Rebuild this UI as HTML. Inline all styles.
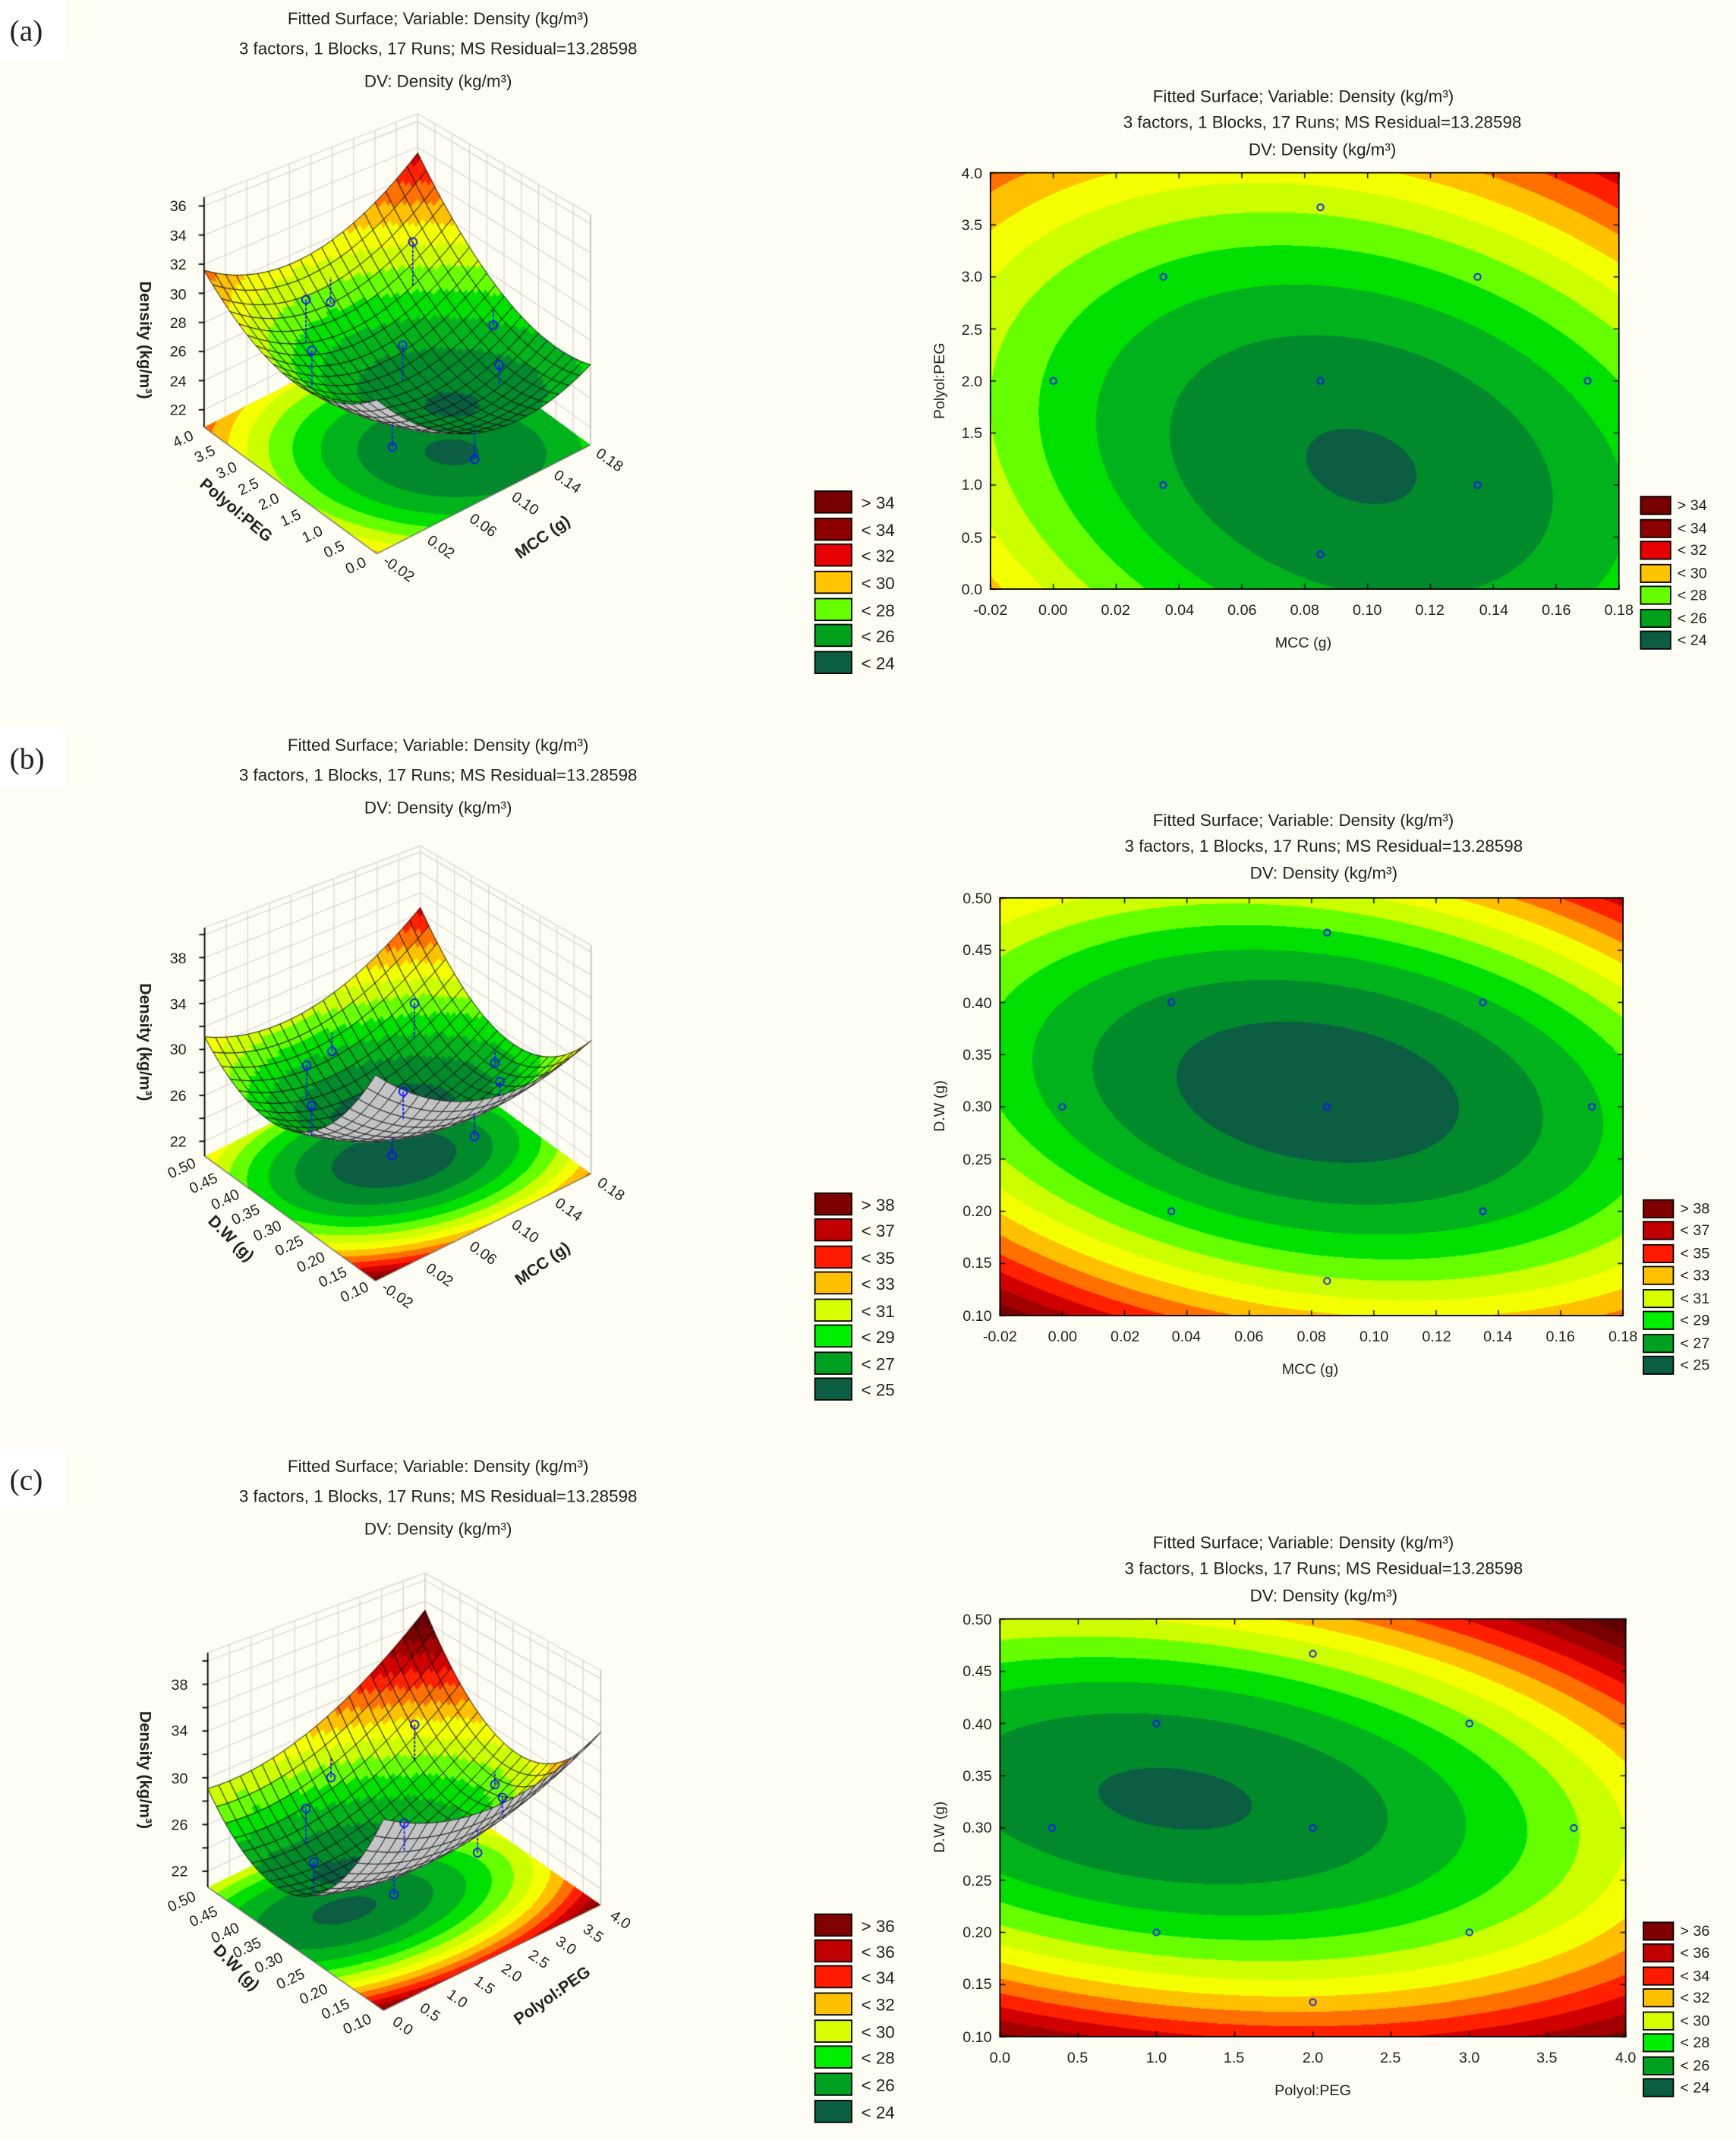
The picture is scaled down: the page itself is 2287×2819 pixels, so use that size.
<!DOCTYPE html>
<html><head><meta charset="utf-8">
<style>
html,body{margin:0;padding:0;background:#fdfdf4;}
#wrap{position:relative;width:2287px;height:2819px;overflow:hidden;}
canvas,svg{position:absolute;left:0;top:0;width:2287px;height:2819px;}
svg text{font-family:"Liberation Sans",sans-serif;fill:#222;}
.t{font-size:12.5px;text-anchor:middle;}
.k{font-size:11px;}
.km{font-size:11px;text-anchor:middle;}
.ke{font-size:11px;text-anchor:end;}
.b{font-size:12px;font-weight:bold;text-anchor:middle;}
.lg{font-size:12.5px;}
.lr{font-size:11px;}
.p{font-family:"Liberation Serif",serif;font-size:22px;}
</style></head><body><div id="wrap">
<canvas id="c" width="2287" height="2819"></canvas>
<svg viewBox="0 0 1276 1573" xmlns="http://www.w3.org/2000/svg">
<rect x="0" y="0" width="48" height="44" fill="#fff"/>
<rect x="0" y="535" width="48" height="44" fill="#fff"/>
<rect x="0" y="1065" width="48" height="44" fill="#fff"/>
<text class="p" x="7" y="30">(a)</text>
<text class="p" x="7" y="565">(b)</text>
<text class="p" x="7" y="1095">(c)</text>

<!-- ===== (a) left titles ===== -->
<text class="t" x="322" y="18">Fitted Surface; Variable: Density (kg/m³)</text>
<text class="t" x="322" y="40">3 factors, 1 Blocks, 17 Runs; MS Residual=13.28598</text>
<text class="t" x="322" y="64">DV: Density (kg/m³)</text>
<text class="ke" x="137" y="305">22</text><text class="ke" x="137" y="284">24</text><text class="ke" x="137" y="262">26</text><text class="ke" x="137" y="241">28</text><text class="ke" x="137" y="220">30</text><text class="ke" x="137" y="198">32</text><text class="ke" x="137" y="177">34</text><text class="ke" x="137" y="155">36</text>
<text class="b" transform="translate(103,250) rotate(90)">Density (kg/m³)</text>
<text class="km" transform="translate(263,419) rotate(-25)">0.0</text><text class="km" transform="translate(247,407) rotate(-25)">0.5</text><text class="km" transform="translate(231,396) rotate(-25)">1.0</text><text class="km" transform="translate(215,384) rotate(-25)">1.5</text><text class="km" transform="translate(199,372) rotate(-25)">2.0</text><text class="km" transform="translate(184,361) rotate(-25)">2.5</text><text class="km" transform="translate(168,349) rotate(-25)">3.0</text><text class="km" transform="translate(152,337) rotate(-25)">3.5</text><text class="km" transform="translate(136,326) rotate(-25)">4.0</text>
<text class="km" transform="translate(291,421) rotate(35)">-0.02</text><text class="km" transform="translate(322,405) rotate(35)">0.02</text><text class="km" transform="translate(353,389) rotate(35)">0.06</text><text class="km" transform="translate(384,373) rotate(35)">0.10</text><text class="km" transform="translate(415,357) rotate(35)">0.14</text><text class="km" transform="translate(446,341) rotate(35)">0.18</text>
<text class="b" transform="translate(171,378) rotate(40)">Polyol:PEG</text>
<text class="b" transform="translate(401,398) rotate(-35)">MCC (g)</text>
<g>
<rect x="599" y="361" width="27" height="16" fill="#780000" stroke="#000"/><text class="lg" x="633" y="374">&gt; 34</text>
<rect x="599" y="381" width="27" height="16" fill="#8c0000" stroke="#000"/><text class="lg" x="633" y="394">&lt; 34</text>
<rect x="599" y="400" width="27" height="16" fill="#e60000" stroke="#000"/><text class="lg" x="633" y="413">&lt; 32</text>
<rect x="599" y="420" width="27" height="16" fill="#ffc400" stroke="#000"/><text class="lg" x="633" y="433">&lt; 30</text>
<rect x="599" y="440" width="27" height="16" fill="#66ff00" stroke="#000"/><text class="lg" x="633" y="453">&lt; 28</text>
<rect x="599" y="459" width="27" height="16" fill="#00a01c" stroke="#000"/><text class="lg" x="633" y="472">&lt; 26</text>
<rect x="599" y="479" width="27" height="16" fill="#0b5e42" stroke="#000"/><text class="lg" x="633" y="492">&lt; 24</text>
</g>

<!-- ===== (a) right ===== -->
<text class="t" x="958" y="75">Fitted Surface; Variable: Density (kg/m³)</text>
<text class="t" x="972" y="94">3 factors, 1 Blocks, 17 Runs; MS Residual=13.28598</text>
<text class="t" x="972" y="114">DV: Density (kg/m³)</text>
<rect x="728" y="127" width="462" height="306" fill="none" stroke="#000"/>
<text class="ke" x="722" y="131">4.0</text><text class="ke" x="722" y="169">3.5</text><text class="ke" x="722" y="207">3.0</text><text class="ke" x="722" y="246">2.5</text><text class="ke" x="722" y="284">2.0</text><text class="ke" x="722" y="322">1.5</text><text class="ke" x="722" y="360">1.0</text><text class="ke" x="722" y="399">0.5</text><text class="ke" x="722" y="437">0.0</text>
<text class="km" x="728" y="452">-0.02</text><text class="km" x="774" y="452">0.00</text><text class="km" x="820" y="452">0.02</text><text class="km" x="867" y="452">0.04</text><text class="km" x="913" y="452">0.06</text><text class="km" x="959" y="452">0.08</text><text class="km" x="1005" y="452">0.10</text><text class="km" x="1051" y="452">0.12</text><text class="km" x="1098" y="452">0.14</text><text class="km" x="1144" y="452">0.16</text><text class="km" x="1190" y="452">0.18</text>
<text class="km" x="958" y="476">MCC (g)</text>
<text class="km" transform="translate(694,280) rotate(-90)">Polyol:PEG</text>
<g>
<rect x="1206" y="365" width="22" height="13" fill="#780000" stroke="#000"/><text class="lr" x="1233" y="375">&gt; 34</text>
<rect x="1206" y="382" width="22" height="13" fill="#8c0000" stroke="#000"/><text class="lr" x="1233" y="392">&lt; 34</text>
<rect x="1206" y="398" width="22" height="13" fill="#e60000" stroke="#000"/><text class="lr" x="1233" y="408">&lt; 32</text>
<rect x="1206" y="415" width="22" height="13" fill="#ffc400" stroke="#000"/><text class="lr" x="1233" y="425">&lt; 30</text>
<rect x="1206" y="431" width="22" height="13" fill="#66ff00" stroke="#000"/><text class="lr" x="1233" y="441">&lt; 28</text>
<rect x="1206" y="448" width="22" height="13" fill="#00a01c" stroke="#000"/><text class="lr" x="1233" y="458">&lt; 26</text>
<rect x="1206" y="464" width="22" height="13" fill="#0b5e42" stroke="#000"/><text class="lr" x="1233" y="474">&lt; 24</text>
</g>

<!-- ===== (b) left ===== -->
<text class="t" x="322" y="552">Fitted Surface; Variable: Density (kg/m³)</text>
<text class="t" x="322" y="574">3 factors, 1 Blocks, 17 Runs; MS Residual=13.28598</text>
<text class="t" x="322" y="598">DV: Density (kg/m³)</text>
<text class="ke" x="137" y="843">22</text><text class="ke" x="137" y="809">26</text><text class="ke" x="137" y="775">30</text><text class="ke" x="137" y="742">34</text><text class="ke" x="137" y="708">38</text>
<text class="b" transform="translate(103,766) rotate(90)">Density (kg/m³)</text>
<text class="km" transform="translate(262,953) rotate(-25)">0.10</text><text class="km" transform="translate(246,942) rotate(-25)">0.15</text><text class="km" transform="translate(230,931) rotate(-25)">0.20</text><text class="km" transform="translate(214,919) rotate(-25)">0.25</text><text class="km" transform="translate(198,908) rotate(-25)">0.30</text><text class="km" transform="translate(182,896) rotate(-25)">0.35</text><text class="km" transform="translate(167,885) rotate(-25)">0.40</text><text class="km" transform="translate(151,873) rotate(-25)">0.45</text><text class="km" transform="translate(135,862) rotate(-25)">0.50</text>
<text class="km" transform="translate(290,955) rotate(35)">-0.02</text><text class="km" transform="translate(321,940) rotate(35)">0.02</text><text class="km" transform="translate(353,924) rotate(35)">0.06</text><text class="km" transform="translate(384,908) rotate(35)">0.10</text><text class="km" transform="translate(416,892) rotate(35)">0.14</text><text class="km" transform="translate(447,877) rotate(35)">0.18</text>
<text class="b" transform="translate(167,913) rotate(45)">D.W (g)</text>
<text class="b" transform="translate(401,932) rotate(-35)">MCC (g)</text>
<g>
<rect x="599" y="877" width="27" height="16" fill="#800000" stroke="#000"/><text class="lg" x="633" y="890">&gt; 38</text>
<rect x="599" y="896" width="27" height="16" fill="#c00000" stroke="#000"/><text class="lg" x="633" y="909">&lt; 37</text>
<rect x="599" y="916" width="27" height="16" fill="#ff1a00" stroke="#000"/><text class="lg" x="633" y="929">&lt; 35</text>
<rect x="599" y="935" width="27" height="16" fill="#ffc000" stroke="#000"/><text class="lg" x="633" y="948">&lt; 33</text>
<rect x="599" y="955" width="27" height="16" fill="#d8ff00" stroke="#000"/><text class="lg" x="633" y="968">&lt; 31</text>
<rect x="599" y="974" width="27" height="16" fill="#00ee00" stroke="#000"/><text class="lg" x="633" y="987">&lt; 29</text>
<rect x="599" y="994" width="27" height="16" fill="#00a020" stroke="#000"/><text class="lg" x="633" y="1007">&lt; 27</text>
<rect x="599" y="1013" width="27" height="16" fill="#0b5e42" stroke="#000"/><text class="lg" x="633" y="1026">&lt; 25</text>
</g>

<!-- ===== (b) right ===== -->
<text class="t" x="958" y="607">Fitted Surface; Variable: Density (kg/m³)</text>
<text class="t" x="973" y="626">3 factors, 1 Blocks, 17 Runs; MS Residual=13.28598</text>
<text class="t" x="973" y="646">DV: Density (kg/m³)</text>
<rect x="735" y="660" width="458" height="307" fill="none" stroke="#000"/>
<text class="ke" x="729" y="664">0.50</text><text class="ke" x="729" y="702">0.45</text><text class="ke" x="729" y="741">0.40</text><text class="ke" x="729" y="779">0.35</text><text class="ke" x="729" y="817">0.30</text><text class="ke" x="729" y="856">0.25</text><text class="ke" x="729" y="894">0.20</text><text class="ke" x="729" y="932">0.15</text><text class="ke" x="729" y="971">0.10</text>
<text class="km" x="735" y="986">-0.02</text><text class="km" x="781" y="986">0.00</text><text class="km" x="827" y="986">0.02</text><text class="km" x="872" y="986">0.04</text><text class="km" x="918" y="986">0.06</text><text class="km" x="964" y="986">0.08</text><text class="km" x="1010" y="986">0.10</text><text class="km" x="1056" y="986">0.12</text><text class="km" x="1101" y="986">0.14</text><text class="km" x="1147" y="986">0.16</text><text class="km" x="1193" y="986">0.18</text>
<text class="km" x="963" y="1010">MCC (g)</text>
<text class="km" transform="translate(694,813) rotate(-90)">D.W (g)</text>
<g>
<rect x="1208" y="882" width="22" height="13" fill="#800000" stroke="#000"/><text class="lr" x="1235" y="892">&gt; 38</text>
<rect x="1208" y="898" width="22" height="13" fill="#c00000" stroke="#000"/><text class="lr" x="1235" y="908">&lt; 37</text>
<rect x="1208" y="915" width="22" height="13" fill="#ff1a00" stroke="#000"/><text class="lr" x="1235" y="925">&lt; 35</text>
<rect x="1208" y="931" width="22" height="13" fill="#ffc000" stroke="#000"/><text class="lr" x="1235" y="941">&lt; 33</text>
<rect x="1208" y="948" width="22" height="13" fill="#d8ff00" stroke="#000"/><text class="lr" x="1235" y="958">&lt; 31</text>
<rect x="1208" y="964" width="22" height="13" fill="#00ee00" stroke="#000"/><text class="lr" x="1235" y="974">&lt; 29</text>
<rect x="1208" y="981" width="22" height="13" fill="#00a020" stroke="#000"/><text class="lr" x="1235" y="991">&lt; 27</text>
<rect x="1208" y="997" width="22" height="13" fill="#0b5e42" stroke="#000"/><text class="lr" x="1235" y="1007">&lt; 25</text>
</g>

<!-- ===== (c) left ===== -->
<text class="t" x="322" y="1082">Fitted Surface; Variable: Density (kg/m³)</text>
<text class="t" x="322" y="1104">3 factors, 1 Blocks, 17 Runs; MS Residual=13.28598</text>
<text class="t" x="322" y="1128">DV: Density (kg/m³)</text>
<text class="ke" x="138" y="1379">22</text><text class="ke" x="138" y="1345">26</text><text class="ke" x="138" y="1311">30</text><text class="ke" x="138" y="1276">34</text><text class="ke" x="138" y="1242">38</text>
<text class="b" transform="translate(103,1301) rotate(90)">Density (kg/m³)</text>
<text class="km" transform="translate(264,1491) rotate(-25)">0.10</text><text class="km" transform="translate(248,1480) rotate(-25)">0.15</text><text class="km" transform="translate(232,1469) rotate(-25)">0.20</text><text class="km" transform="translate(215,1458) rotate(-25)">0.25</text><text class="km" transform="translate(199,1446) rotate(-25)">0.30</text><text class="km" transform="translate(183,1435) rotate(-25)">0.35</text><text class="km" transform="translate(167,1424) rotate(-25)">0.40</text><text class="km" transform="translate(151,1412) rotate(-25)">0.45</text><text class="km" transform="translate(135,1401) rotate(-25)">0.50</text>
<text class="km" transform="translate(294,1492) rotate(35)">0.0</text><text class="km" transform="translate(314,1482) rotate(35)">0.5</text><text class="km" transform="translate(334,1472) rotate(35)">1.0</text><text class="km" transform="translate(354,1462) rotate(35)">1.5</text><text class="km" transform="translate(374,1453) rotate(35)">2.0</text><text class="km" transform="translate(394,1443) rotate(35)">2.5</text><text class="km" transform="translate(414,1433) rotate(35)">3.0</text><text class="km" transform="translate(434,1424) rotate(35)">3.5</text><text class="km" transform="translate(454,1414) rotate(35)">4.0</text>
<text class="b" transform="translate(171,1449) rotate(45)">D.W (g)</text>
<text class="b" transform="translate(408,1470) rotate(-35)">Polyol:PEG</text>
<g>
<rect x="599" y="1407" width="27" height="16" fill="#800000" stroke="#000"/><text class="lg" x="633" y="1420">&gt; 36</text>
<rect x="599" y="1426" width="27" height="16" fill="#c00000" stroke="#000"/><text class="lg" x="633" y="1439">&lt; 36</text>
<rect x="599" y="1445" width="27" height="16" fill="#ff1a00" stroke="#000"/><text class="lg" x="633" y="1458">&lt; 34</text>
<rect x="599" y="1465" width="27" height="16" fill="#ffc000" stroke="#000"/><text class="lg" x="633" y="1478">&lt; 32</text>
<rect x="599" y="1485" width="27" height="16" fill="#d8ff00" stroke="#000"/><text class="lg" x="633" y="1498">&lt; 30</text>
<rect x="599" y="1504" width="27" height="16" fill="#00ee00" stroke="#000"/><text class="lg" x="633" y="1517">&lt; 28</text>
<rect x="599" y="1524" width="27" height="16" fill="#00a020" stroke="#000"/><text class="lg" x="633" y="1537">&lt; 26</text>
<rect x="599" y="1544" width="27" height="16" fill="#0b5e42" stroke="#000"/><text class="lg" x="633" y="1557">&lt; 24</text>
</g>

<!-- ===== (c) right ===== -->
<text class="t" x="958" y="1138">Fitted Surface; Variable: Density (kg/m³)</text>
<text class="t" x="973" y="1157">3 factors, 1 Blocks, 17 Runs; MS Residual=13.28598</text>
<text class="t" x="973" y="1177">DV: Density (kg/m³)</text>
<rect x="735" y="1190" width="460" height="307" fill="none" stroke="#000"/>
<text class="ke" x="729" y="1194">0.50</text><text class="ke" x="729" y="1232">0.45</text><text class="ke" x="729" y="1271">0.40</text><text class="ke" x="729" y="1309">0.35</text><text class="ke" x="729" y="1347">0.30</text><text class="ke" x="729" y="1386">0.25</text><text class="ke" x="729" y="1424">0.20</text><text class="ke" x="729" y="1462">0.15</text><text class="ke" x="729" y="1501">0.10</text>
<text class="km" x="735" y="1516">0.0</text><text class="km" x="792" y="1516">0.5</text><text class="km" x="850" y="1516">1.0</text><text class="km" x="907" y="1516">1.5</text><text class="km" x="965" y="1516">2.0</text><text class="km" x="1022" y="1516">2.5</text><text class="km" x="1080" y="1516">3.0</text><text class="km" x="1137" y="1516">3.5</text><text class="km" x="1195" y="1516">4.0</text>
<text class="km" x="965" y="1540">Polyol:PEG</text>
<text class="km" transform="translate(694,1343) rotate(-90)">D.W (g)</text>
<g>
<rect x="1208" y="1413" width="22" height="13" fill="#800000" stroke="#000"/><text class="lr" x="1235" y="1423">&gt; 36</text>
<rect x="1208" y="1429" width="22" height="13" fill="#c00000" stroke="#000"/><text class="lr" x="1235" y="1439">&lt; 36</text>
<rect x="1208" y="1446" width="22" height="13" fill="#ff1a00" stroke="#000"/><text class="lr" x="1235" y="1456">&lt; 34</text>
<rect x="1208" y="1462" width="22" height="13" fill="#ffc000" stroke="#000"/><text class="lr" x="1235" y="1472">&lt; 32</text>
<rect x="1208" y="1479" width="22" height="13" fill="#d8ff00" stroke="#000"/><text class="lr" x="1235" y="1489">&lt; 30</text>
<rect x="1208" y="1495" width="22" height="13" fill="#00ee00" stroke="#000"/><text class="lr" x="1235" y="1505">&lt; 28</text>
<rect x="1208" y="1512" width="22" height="13" fill="#00a020" stroke="#000"/><text class="lr" x="1235" y="1522">&lt; 26</text>
<rect x="1208" y="1528" width="22" height="13" fill="#0b5e42" stroke="#000"/><text class="lr" x="1235" y="1538">&lt; 24</text>
</g>
</svg>
</div>
<script>
(function(){
var S=2287/1276;
var cv=document.getElementById('c'),ctx=cv.getContext('2d');
ctx.fillStyle='#fdfdf4';ctx.fillRect(0,0,2287,2819);
var pal=['#0b5e42','#008a2c','#00b21c','#00e000','#66ff00','#ccff00','#f4ff00','#ffc000','#ff7000','#ff2000','#d00000','#a00000','#780000','#600000'];
var rgb=pal.map(function(h){return [parseInt(h.substr(1,2),16),parseInt(h.substr(3,2),16),parseInt(h.substr(5,2),16)];});
function band(g){if(g<0)return 0;return Math.min(pal.length-1,Math.floor(g)+1);}
function gA(u,v){var a=u-.59,b=v-.295;return 12.5*a*a+11.7*b*b+6*a*b-.09;}
function gB(u,v){var a=u-.51,b=v-.535;return 13.3*a*a+24*b*b+8*a*b-.65;}
function gC(u,v){var a=u-.28,b=v-.57;return 10.5*a*a+29*b*b+8*a*b-.15;}
function field(x0,y0,x1,y1,fn){
 var X0=Math.floor(x0*S),Y0=Math.floor(y0*S),W=Math.ceil(x1*S)-X0,H=Math.ceil(y1*S)-Y0;
 var img=ctx.getImageData(X0,Y0,W,H),d=img.data;
 for(var j=0;j<H;j++)for(var i=0;i<W;i++){
  var k=fn((X0+i+.5)/S,(Y0+j+.5)/S);if(k<0)continue;
  var c=rgb[k],p=(j*W+i)*4;d[p]=c[0];d[p+1]=c[1];d[p+2]=c[2];d[p+3]=255;}
 ctx.putImageData(img,X0,Y0);}
var pts=[[.1,.5],[.275,.25],[.275,.75],[.525,.083],[.525,.5],[.525,.917],[.775,.25],[.775,.75],[.95,.5]];
var ptsC=[[.083,.5],[.25,.25],[.25,.75],[.5,.083],[.5,.5],[.5,.917],[.75,.25],[.75,.75],[.917,.5]];
var cons=[[728,127,1190,433,gA,pts],[735,660,1193,967,gB,pts],[735,1190,1195,1497,gC,ptsC]];
cons.forEach(function(c){field(c[0],c[1],c[2],c[3],function(x,y){var u=(x-c[0])/(c[2]-c[0]),v=(c[3]-y)/(c[3]-c[1]);if(u<0||u>1||v<0||v>1)return -1;return band(c[4](u,v));});});
var cfgs=[
 {F:[277,407],R:[434,327],L:[150,314],z0:20.8,k:10.7,zt:36.6,zs:22,g:gA,base:24,pts:pts},
 {F:[276,941.4],R:[434.5,862.7],L:[150.4,849.8],z0:20.7,k:8.44,zt:40.6,zs:22,g:gB,base:25,pts:pts},
 {F:[281.9,1477.5],R:[441.6,1400],L:[152.7,1387],z0:20.64,k:8.59,zt:40.7,zs:22,g:gC,base:24,pts:ptsC}];
cfgs.forEach(function(c){
 var F=c.F,R=c.R,L=c.L,a=[R[0]-F[0],R[1]-F[1]],b=[L[0]-F[0],L[1]-F[1]],det=a[0]*b[1]-a[1]*b[0];
 c.P=function(u,v,f){var s=1-0.11*(u+v-1);return [F[0]+u*a[0]+v*b[0],F[1]+u*a[1]+v*b[1]-(f-c.z0)*c.k*s];};
 var minx=Math.min(F[0],R[0],L[0]),maxx=Math.max(F[0],R[0],L[0],R[0]+L[0]-F[0]),miny=Math.min(R[1],L[1],R[1]+L[1]-F[1]),maxy=F[1];
 field(minx,miny,maxx,maxy,function(x,y){var dx=x-F[0],dy=y-F[1];var u=(dx*b[1]-dy*b[0])/det,v=(a[0]*dy-a[1]*dx)/det;if(u<0||u>1||v<0||v>1)return -1;return band(c.g(u,v));});
});
ctx.setTransform(S,0,0,S,0,0);
function line(p,q){ctx.beginPath();ctx.moveTo(p[0],p[1]);ctx.lineTo(q[0],q[1]);ctx.stroke();}
cons.forEach(function(c,ci){
 ctx.strokeStyle='#000';ctx.lineWidth=.8;
 var nx=ci==2?8:10;
 for(var i=0;i<=nx;i++){var x=c[0]+(c[2]-c[0])*i/nx;line([x,c[3]],[x,c[3]-4]);line([x,c[1]],[x,c[1]+4]);}
 for(var j=0;j<=8;j++){var y=c[1]+(c[3]-c[1])*j/8;line([c[0],y],[c[0]+4,y]);line([c[2],y],[c[2]-4,y]);}
 ctx.strokeStyle='#1010ff';ctx.lineWidth=1;
 c[5].forEach(function(p){var x=c[0]+p[0]*(c[2]-c[0]),y=c[3]-p[1]*(c[3]-c[1]);ctx.beginPath();ctx.arc(x,y,2.3,0,7);ctx.stroke();});
});
cfgs.forEach(function(c){
 var P=c.P;
 ctx.strokeStyle='#d2d2d2';ctx.lineWidth=.6;
 for(var i=0;i<=10;i++){var t=i/10;line(P(t,1,c.z0),P(t,1,c.zt));line(P(1,t,c.z0),P(1,t,c.zt));}
 for(var z=c.zs;z<=c.zt;z+=2){ctx.beginPath();var p=P(0,1,z);ctx.moveTo(p[0],p[1]);p=P(1,1,z);ctx.lineTo(p[0],p[1]);p=P(1,0,z);ctx.lineTo(p[0],p[1]);ctx.stroke();}
 ctx.beginPath();var p=P(0,1,c.zt);ctx.moveTo(p[0],p[1]);p=P(1,1,c.zt);ctx.lineTo(p[0],p[1]);p=P(1,0,c.zt);ctx.lineTo(p[0],p[1]);ctx.stroke();
 ctx.strokeStyle='#b0b0b0';line(P(1,0,c.z0),P(1,0,c.zt));
 ctx.strokeStyle='#000';ctx.lineWidth=1;line(P(0,1,c.z0),P(0,1,c.zt));
 for(var z=c.zs;z<=c.zt;z+=2){var q=P(0,1,z);line(q,[q[0]-4,q[1]]);}
 ctx.strokeStyle='#666';ctx.lineWidth=.7;line(P(0,1,c.z0),P(0,0,c.z0));line(P(0,0,c.z0),P(1,0,c.z0));
 var N=20,M=3,T=N*M;
 function f(u,v){return c.base+c.g(u,v);}
 var G=[];for(var i=0;i<=T;i++){G[i]=[];for(var j=0;j<=T;j++)G[i][j]=P(i/T,j/T,f(i/T,j/T));}
 var cells=[];for(var i=0;i<N;i++)for(var j=0;j<N;j++)cells.push([i,j]);
 cells.sort(function(A,B){return (B[0]+B[1])-(A[0]+A[1]);});
 cells.forEach(function(cl){
  var sub=[];for(var a=0;a<M;a++)for(var b=0;b<M;b++)sub.push([cl[0]*M+a,cl[1]*M+b]);
  sub.sort(function(A,B){return (B[0]+B[1])-(A[0]+A[1]);});
  sub.forEach(function(s){var i=s[0],j=s[1],p00=G[i][j],p10=G[i+1][j],p11=G[i+1][j+1],p01=G[i][j+1];
   var cr=(p10[0]-p00[0])*(p01[1]-p00[1])-(p10[1]-p00[1])*(p01[0]-p00[0]);
   var col=cr>0?'#c6c6c6':pal[band(c.g((i+.5)/T,(j+.5)/T))];
   ctx.fillStyle=col;ctx.strokeStyle=col;ctx.lineWidth=.35;
   ctx.beginPath();ctx.moveTo(p00[0],p00[1]);ctx.lineTo(p10[0],p10[1]);ctx.lineTo(p11[0],p11[1]);ctx.lineTo(p01[0],p01[1]);ctx.closePath();ctx.fill();ctx.stroke();});
  ctx.strokeStyle='#111';ctx.lineWidth=.55;ctx.beginPath();
  var i0=cl[0]*M,j0=cl[1]*M,q=G[i0][j0];ctx.moveTo(q[0],q[1]);
  for(var a=1;a<=M;a++){q=G[i0+a][j0];ctx.lineTo(q[0],q[1]);}
  for(var b=1;b<=M;b++){q=G[i0+M][j0+b];ctx.lineTo(q[0],q[1]);}
  for(var a=M-1;a>=0;a--){q=G[i0+a][j0+M];ctx.lineTo(q[0],q[1]);}
  for(var b=M-1;b>=0;b--){q=G[i0][j0+b];ctx.lineTo(q[0],q[1]);}
  ctx.stroke();
 });
 var dev=[2.5,-1.5,3,-2,2.5,-1.8,1.5,3.2,-1.2];
 ctx.strokeStyle='#1010ff';ctx.lineWidth=1;
 c.pts.forEach(function(pp,n){var ff=f(pp[0],pp[1]),A=P(pp[0],pp[1],ff+dev[n]),B=P(pp[0],pp[1],ff);
  ctx.setLineDash([2,1]);line(A,B);ctx.setLineDash([]);ctx.beginPath();ctx.arc(A[0],A[1],3,0,7);ctx.stroke();});
});
})();
</script>
</body></html>
